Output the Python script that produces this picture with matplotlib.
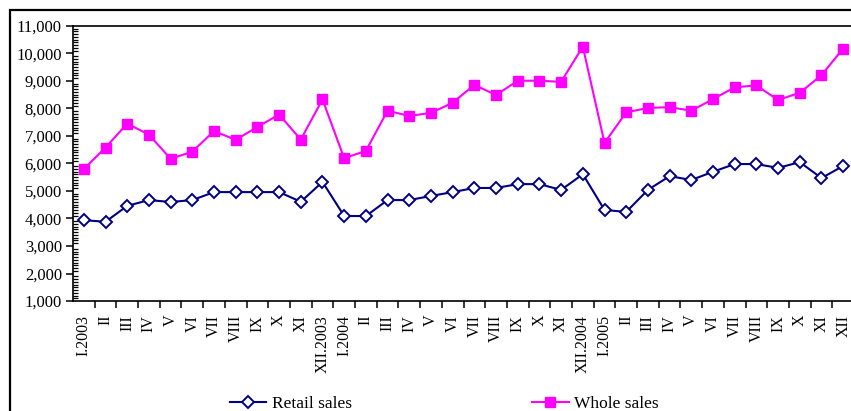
import matplotlib
matplotlib.use("Agg")
import matplotlib.pyplot as plt
from matplotlib.patches import Rectangle
from matplotlib.ticker import MultipleLocator, FuncFormatter

plt.rcParams["font.family"] = ["Liberation Serif", "DejaVu Serif"]
plt.rcParams["font.size"] = 11.5

months = ["I.2003", "II", "III", "IV", "V", "VI", "VII", "VIII", "IX", "X", "XI", "XII.2003",
          "I.2004", "II", "III", "IV", "V", "VI", "VII", "VIII", "IX", "X", "XI", "XII.2004",
          "I.2005", "II", "III", "IV", "V", "VI", "VII", "VIII", "IX", "X", "XI", "XII"]

retail_sales = [3940, 3880, 4460, 4670, 4600, 4670, 4960, 4960, 4960, 4960, 4610, 5330,
                4090, 4090, 4670, 4670, 4820, 4960, 5110, 5110, 5250, 5250, 5040, 5610,
                4310, 4240, 5040, 5540, 5400, 5700, 5980, 5980, 5840, 6050, 5470, 5910]

whole_sales = [5800, 6580, 7450, 7050, 6170, 6430, 7180, 6860, 7330, 7780, 6870, 8330,
               6190, 6460, 7920, 7730, 7840, 8210, 8860, 8490, 9010, 9010, 8970, 10250,
               6750, 7860, 8020, 8050, 7920, 8340, 8770, 8840, 8310, 8570, 9210, 10180]

W, H = 851, 411
fig = plt.figure(figsize=(W / 100, H / 100), dpi=100)

# outer chart frame (continues past the right and bottom edges)
fig.patches.append(Rectangle((9.5 / W, -0.2), 1.2, 1 - 10.3 / H + 0.2,
                             transform=fig.transFigure, fill=False,
                             edgecolor="black", linewidth=1.6))

left, right, bottom, top = 73 / W, 854 / W, 1 - 301 / H, 1 - 26 / H
ax = fig.add_axes([left, bottom, right - left, top - bottom])

x = list(range(len(months)))
ax.plot(x, retail_sales, color="#000080", linewidth=1.5, marker="D", markersize=6,
        markerfacecolor="white", markeredgecolor="#000080", markeredgewidth=1.4,
        label="Retail sales")
ax.plot(x, whole_sales, color="#FF00FF", linewidth=1.5, marker="s", markersize=7,
        markerfacecolor="#FF00FF", markeredgecolor="#FF00FF",
        label="Whole sales")

ax.set_xlim(-0.5, len(months) - 0.5)
ax.set_ylim(1000, 11000)

ax.yaxis.set_major_locator(MultipleLocator(1000))
ax.yaxis.set_minor_locator(MultipleLocator(100))
ax.yaxis.set_major_formatter(FuncFormatter(lambda v, p: f"{int(v):,}"))
ax.tick_params(axis="y", which="major", direction="out", length=5, width=1.1, pad=3,
               labelsize=12)
ax.tick_params(axis="y", which="minor", direction="in", length=3.5, width=0.9)

ax.set_xticks(x)
ax.set_xticklabels(months, rotation=90, va="top", ha="center")
ax.set_xticks([i - 0.5 for i in range(1, len(months) + 1)], minor=True)
ax.tick_params(axis="x", which="major", length=0, pad=10)
ax.tick_params(axis="x", which="minor", direction="out", length=5, width=1.1)

for s in ax.spines.values():
    s.set_linewidth(1.2)
    s.set_color("black")

handles, labels = ax.get_legend_handles_labels()
fig.legend(handles, labels, ncol=2, loc="center left",
           bbox_to_anchor=(230 / W, 1 - 404 / H), frameon=False, fontsize=12.5,
           handlelength=2.1, handletextpad=0.3, columnspacing=10.4,
           borderaxespad=0, borderpad=0)

fig.savefig("out.png", dpi=100)
